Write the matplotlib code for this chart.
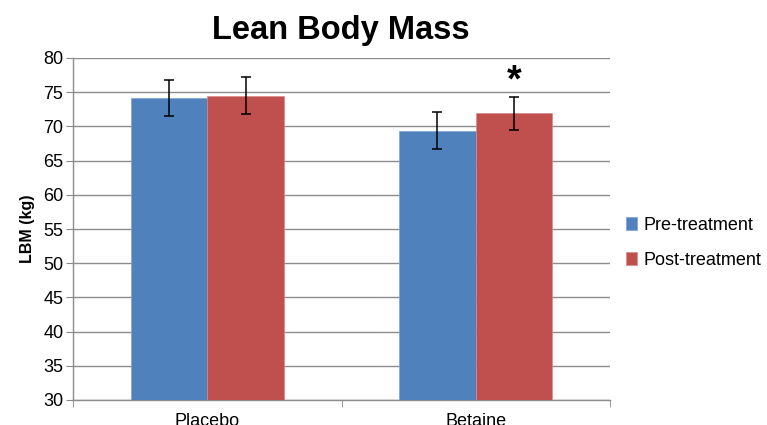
import numpy as np
import matplotlib
matplotlib.use("Agg")
import matplotlib.pyplot as plt

plt.rcParams['font.family'] = ['Liberation Sans', 'DejaVu Sans']

# --- Data ---
groups = ["Placebo", "Betaine"]
series = ["Pre-treatment", "Post-treatment"]
pre_mean = [74.2, 69.4]
post_mean = [74.5, 71.9]
pre_err = [2.65, 2.7]
post_err = [2.75, 2.4]
colors = ["#4F81BD", "#C0504D"]

fig = plt.figure(figsize=(7.67, 4.25), dpi=100)
ax = fig.add_axes([73 / 767, 1 - 400 / 425, (610 - 73) / 767, (400 - 58) / 425])

x = np.arange(len(groups))
w = 1 / 3.5
err_kw = dict(ecolor="black", elinewidth=1.1, capsize=3.5, capthick=1.1)
ax.bar(x - w / 2, pre_mean, w, yerr=pre_err, color=colors[0], label=series[0],
       edgecolor="#7FA3D1", linewidth=0.5, error_kw=err_kw, zorder=3)
ax.bar(x + w / 2, post_mean, w, yerr=post_err, color=colors[1], label=series[1],
       edgecolor="#D88886", linewidth=0.5, error_kw=err_kw, zorder=3)

# significance marker above Betaine post-treatment bar
ax.text(x[1] + w / 2, post_mean[1] + post_err[1] - 0.3, "*", ha="center",
        va="bottom", fontsize=27, fontweight="bold")

ax.set_ylim(30, 80)
ax.set_yticks(np.arange(30, 81, 5))
ax.set_xlim(-0.5, 1.5)
ax.set_xticks(x)
ax.set_xticklabels(groups, fontsize=13)
ax.set_xticks([-0.5, 0.5, 1.5], minor=True)
ax.tick_params(axis="x", which="major", length=0, pad=9)
ax.tick_params(axis="x", which="minor", length=5, color="#888888")
ax.tick_params(axis="y", length=5, color="#888888", labelsize=13, pad=2)

ax.grid(axis="y", color="#8C8C8C", linewidth=1, zorder=0)
ax.set_axisbelow(True)
for s in ["top", "right"]:
    ax.spines[s].set_visible(False)
for s in ["left", "bottom"]:
    ax.spines[s].set_color("#8C8C8C")
    ax.spines[s].set_linewidth(1)

ax.set_ylabel("LBM (kg)", fontsize=11.5, fontweight="bold", labelpad=6)
fig.suptitle("Lean Body Mass", x=341 / 767, y=1 - 15 / 425, fontsize=23.5,
             fontweight="bold", va="top")

ax.legend(loc="center left", bbox_to_anchor=(1.0, 0.46), frameon=False,
          fontsize=13, handlelength=0.6, handleheight=0.7, handletextpad=0.35,
          labelspacing=1.0)

fig.savefig("out.png", dpi=100)
